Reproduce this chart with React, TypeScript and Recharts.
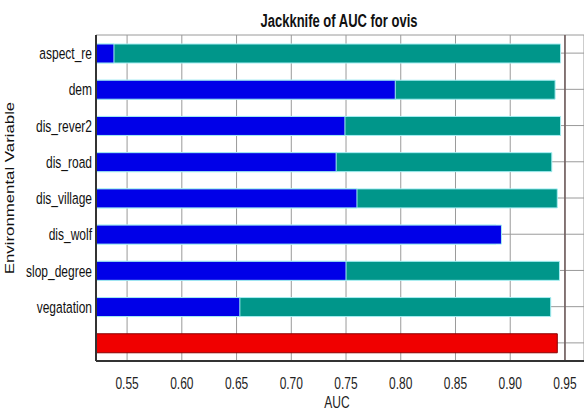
import { BarChart, Bar, XAxis, YAxis, CartesianGrid, Cell, ReferenceLine } from 'recharts'

const variables = ['aspect_re', 'dem', 'dis_rever2', 'dis_road', 'dis_village', 'dis_wolf', 'slop_degree', 'vegatation']
// AUC without the variable (teal) and with only the variable (blue)
const withoutVar = [0.946, 0.941, 0.946, 0.938, 0.943, 0.887, 0.945, 0.937]
const withOnlyVar = [0.538, 0.795, 0.749, 0.741, 0.76, 0.892, 0.75, 0.653]
const withAllVars = 0.943
const xTicks = [0.55, 0.6, 0.65, 0.7, 0.75, 0.8, 0.85, 0.9, 0.95]

const data = [
  ...variables.map((name, i) => ({ name, without: withoutVar[i], only: withOnlyVar[i] })),
  { name: '', without: withAllVars, only: null },
]

const font = '"Liberation Sans", Arial, sans-serif'
const domain: [number, number] = [0.5216, 0.9674]
// the source image is stretched vertically, so text is drawn tall and narrow
const stretch = 1.4

function XTick({ x, y, payload }: any) {
  return (
    <g transform={`translate(${x},${y}) scale(1,${stretch})`}>
      <text x={0} y={0} dy="0.71em" textAnchor="middle" fill="#222" fontSize={12} fontFamily={font}>
        {Number(payload.value).toFixed(2)}
      </text>
    </g>
  )
}

function YTick({ x, y, payload }: any) {
  return (
    <g transform={`translate(${x},${y}) scale(1,${stretch})`}>
      <text x={0} y={0} dy="0.36em" textAnchor="end" fill="#111" fontSize={12} fontFamily={font}>
        {payload.value}
      </text>
    </g>
  )
}

export default function App() {
  return (
    <div style={{ position: 'absolute', left: 0, top: 0, width: 584, height: 412, background: '#fff', fontFamily: font }}>
      <div
        style={{
          position: 'absolute',
          left: 339,
          top: 21,
          transform: `translate(-50%, -50%) scaleY(${stretch})`,
          fontSize: 13,
          fontWeight: 'bold',
          whiteSpace: 'nowrap',
          color: '#111',
        }}
      >
        Jackknife of AUC for ovis
      </div>
      <div
        style={{
          position: 'absolute',
          left: 10,
          top: 188,
          transform: `translate(-50%, -50%) rotate(-90deg) scaleX(${stretch})`,
          fontSize: 12,
          whiteSpace: 'nowrap',
          color: '#111',
        }}
      >
        Environmental Variable
      </div>
      <div
        style={{
          position: 'absolute',
          left: 337,
          top: 402,
          transform: `translate(-50%, -50%) scaleY(${stretch})`,
          fontSize: 12,
          whiteSpace: 'nowrap',
          color: '#222',
        }}
      >
        AUC
      </div>
      <BarChart
        width={584}
        height={412}
        data={data}
        layout="vertical"
        margin={{ top: 35, right: 0, bottom: 5, left: 0 }}
        barSize={19}
        barGap={-19}
        style={{ fontFamily: font, position: 'absolute', left: 0, top: 0 }}
      >
        <CartesianGrid stroke="#9a9a9a" fill="#fff" />
        <XAxis
          type="number"
          domain={domain}
          allowDataOverflow
          ticks={xTicks}
          tick={<XTick />}
          tickLine={false}
          tickMargin={10}
          axisLine={{ stroke: '#333', strokeWidth: 2 }}
          height={46}
        />
        <XAxis
          xAxisId="top"
          orientation="top"
          type="number"
          domain={domain}
          tick={false}
          tickLine={false}
          height={0}
          axisLine={{ stroke: '#777', strokeWidth: 3 }}
        />
        <YAxis
          type="category"
          dataKey="name"
          width={96}
          tickLine={false}
          tickSize={0}
          tickMargin={4}
          tick={<YTick />}
          axisLine={{ stroke: '#333', strokeWidth: 2 }}
        />
        <ReferenceLine x={0.95} stroke="#6e5a5a" strokeWidth={1.5} />
        <Bar dataKey="without" isAnimationActive={false}>
          {data.map((d, i) => (
            <Cell
              key={i}
              fill={d.name === '' ? '#f00000' : '#00968a'}
              stroke={d.name === '' ? '#8a0000' : '#a6eef2'}
              strokeWidth={1}
            />
          ))}
        </Bar>
        <Bar dataKey="only" fill="#0000e8" stroke="#a6eef2" strokeWidth={1} isAnimationActive={false} />
      </BarChart>
    </div>
  )
}
